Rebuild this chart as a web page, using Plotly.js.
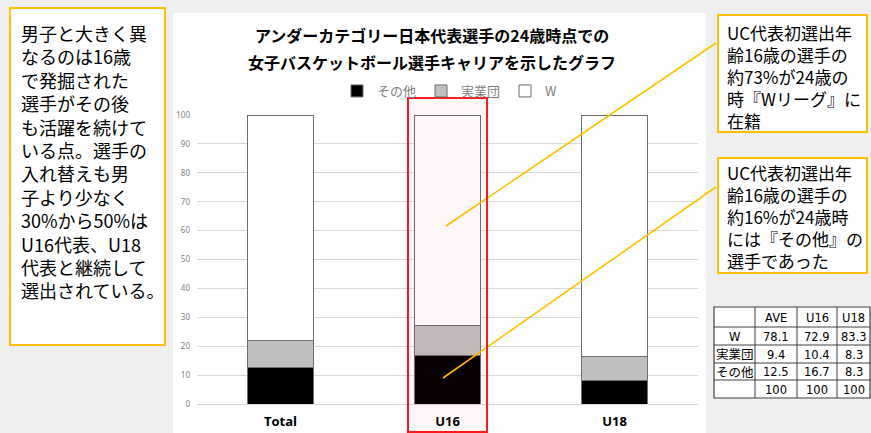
<!DOCTYPE html>
<html><head><meta charset="utf-8">
<script src="https://cdn.plot.ly/plotly-3.0.1.min.js"></script>
<style>html,body{margin:0;padding:0;background:#efefef}#chart{width:871px;height:433px}</style>
</head><body><div id="chart"></div>
<script>
// ---- data ----
const categories = ['Total', 'U16', 'U18'];
const sonota = [12.5, 16.7, 8.3];        // その他
const jitsugyodan = [9.4, 10.4, 8.3];    // 実業団
const wleague = [78.1, 72.9, 83.3];      // W
const seriesNames = ['その他', '実業団', 'W'];
const tableHeader = ['', 'AVE', 'U16', 'U18'];
const tableRowLabels = ['W', '実業団', 'その他', ''];
const tableTotals = [100, 100, 100];
const titleLines = ['アンダーカテゴリー日本代表選手の24歳時点での', '女子バスケットボール選手キャリアを示したグラフ'];
const leftLines = ['男子と大きく異', 'なるのは16歳', 'で発掘された', '選手がその後', 'も活躍を続けて', 'いる点。選手の', '入れ替えも男', '子より少なく', '30%から50%は', 'U16代表、U18', '代表と継続して', '選出されている。'];
const callout1 = ['UC代表初選出年', '齢16歳の選手の', '約73%が24歳の', '時『Wリーグ』に', '在籍'];
const callout2 = ['UC代表初選出年', '齢16歳の選手の', '約16%が24歳時', 'には『その他』の', '選手であった'];

// ---- layout helpers (pixel -> paper) ----
const W = 871, H = 433, ML = 197, MR = 173, MT = 115, MB = 29;
const PW = W - ML - MR, PH = H - MT - MB;
const px = v => (v - ML) / PW;
const py = v => (H - MB - v) / PH;
const JP = '"Noto Sans CJK JP", "Noto Sans", sans-serif';
const ORANGE = '#ffc000';

const barLine = {color: '#6f6f6f', width: 1};
const traces = [
  {type: 'bar', name: seriesNames[0], x: categories, y: sonota, marker: {color: '#000000', line: barLine}, width: 0.4},
  {type: 'bar', name: seriesNames[1], x: categories, y: jitsugyodan, marker: {color: '#bfbfbf', line: barLine}, width: 0.4},
  {type: 'bar', name: seriesNames[2], x: categories, y: wleague, marker: {color: '#ffffff', line: barLine}, width: 0.4}
];

const shapes = [];
const annotations = [];
function rect(x0, y0, x1, y1, fill, lc, lw, layer) {
  shapes.push({type: 'rect', xref: 'paper', yref: 'paper', x0: px(x0), x1: px(x1), y0: py(y0), y1: py(y1),
    fillcolor: fill, line: {color: lc, width: lw}, layer: layer || 'below'});
}
function line(x0, y0, x1, y1, lc, lw, layer) {
  shapes.push({type: 'line', xref: 'paper', yref: 'paper', x0: px(x0), x1: px(x1), y0: py(y0), y1: py(y1),
    line: {color: lc, width: lw}, layer: layer || 'above'});
}
function text(t, x, y, size, opts) {
  annotations.push(Object.assign({text: t, xref: 'paper', yref: 'paper', x: px(x), y: py(y), showarrow: false,
    xanchor: 'left', yanchor: 'middle', font: {family: JP, size: size, color: '#000'}}, opts || {}));
}

// white chart panel
rect(173, 13, 706, 433, '#ffffff', 'rgba(0,0,0,0)', 0);
// left comment box
rect(10, 8, 165, 345, '#ffffff', ORANGE, 2);
text(leftLines.join('<br>'), 20, 19, 18, {yanchor: 'top', align: 'left', borderpad: 0});
// callout boxes
rect(718, 15, 867, 132, '#ffffff', ORANGE, 2);
rect(718, 158, 867, 273, '#ffffff', ORANGE, 2);
text(callout1.join('<br>'), 726, 19, 17, {yanchor: 'top', align: 'left', borderpad: 0});
text(callout2.join('<br>'), 726, 159, 17, {yanchor: 'top', align: 'left', borderpad: 0});
// leader lines
line(446, 226, 716, 43, ORANGE, 1.6);
line(443, 378, 716, 187, ORANGE, 1.6);
// red highlight box around U16
shapes.push({type: 'rect', xref: 'paper', yref: 'paper', x0: px(408), x1: px(487), y0: py(98), y1: py(432),
  fillcolor: 'rgba(255,0,0,0.03)', line: {color: '#ff1a1a', width: 2}, layer: 'above'});
// title
titleLines.forEach((t, i) => text(t, 432, 35 + i * 27, 16, {xanchor: 'center', font: {family: JP, size: 16, color: '#000', weight: 'bold'}}));

// table
const colX = [714, 755, 797, 837, 870];
const rowY = [307, 327, 345, 363, 380, 398];
rect(colX[0], rowY[0], colX[4], rowY[5], '#ffffff', '#404040', 1.2);
for (let i = 1; i < colX.length - 1; i++) line(colX[i], rowY[0], colX[i], rowY[5], '#404040', 1, 'below');
for (let j = 1; j < rowY.length - 1; j++) line(colX[0], rowY[j], colX[4], rowY[j], '#404040', 1, 'below');
const TF = '"DejaVu Sans", "Noto Sans CJK JP", sans-serif';
const cellText = (t, c, r, sz) => text(String(t), (colX[c] + colX[c + 1]) / 2, (rowY[r] + rowY[r + 1]) / 2 + 0.5, sz || 11.5,
  {xanchor: 'center', font: {family: TF, size: sz || 11.5, color: '#000'}});
tableHeader.forEach((t, c) => { if (t) cellText(t, c, 0); });
const tableRows = [wleague, jitsugyodan, sonota];
tableRowLabels.forEach((lab, r) => {
  if (lab) cellText(lab, 0, r + 1, r === 0 ? 11.5 : 12.5);
  const vals = r < 3 ? tableRows[r].map(v => v.toFixed(1)) : tableTotals.map(String);
  vals.forEach((v, c) => cellText(v, c + 1, r + 1));
});

const layout = {
  width: W, height: H,
  margin: {l: ML, r: MR, t: MT, b: MB, pad: 0},
  paper_bgcolor: '#efefef', plot_bgcolor: '#ffffff',
  barmode: 'stack',
  showlegend: true,
  legend: {orientation: 'h', x: px(450), xanchor: 'center', y: py(91), yanchor: 'middle',
    traceorder: 'normal', itemwidth: 30, bgcolor: 'rgba(0,0,0,0)',
    font: {family: JP, size: 13, color: '#7f7f7f'}, itemclick: false, itemdoubleclick: false},
  xaxis: {type: 'category', showgrid: false, zeroline: false, showline: false, ticks: '',
    ticklabelstandoff: 8, tickfont: {family: '"Open Sans", sans-serif', size: 13, color: '#000', weight: 'bold'}},
  yaxis: {range: [0, 100], dtick: 10, showgrid: true, gridcolor: '#d9d9d9', gridwidth: 1,
    zeroline: true, zerolinecolor: '#d9d9d9', zerolinewidth: 1, showline: false, ticks: '',
    ticklabelstandoff: 6, tickfont: {family: '"Noto Sans", sans-serif', size: 8, color: '#7f7f7f'}},
  shapes: shapes,
  annotations: annotations
};

Plotly.newPlot('chart', traces, layout, {displayModeBar: false, staticPlot: true});
</script>
</body></html>
